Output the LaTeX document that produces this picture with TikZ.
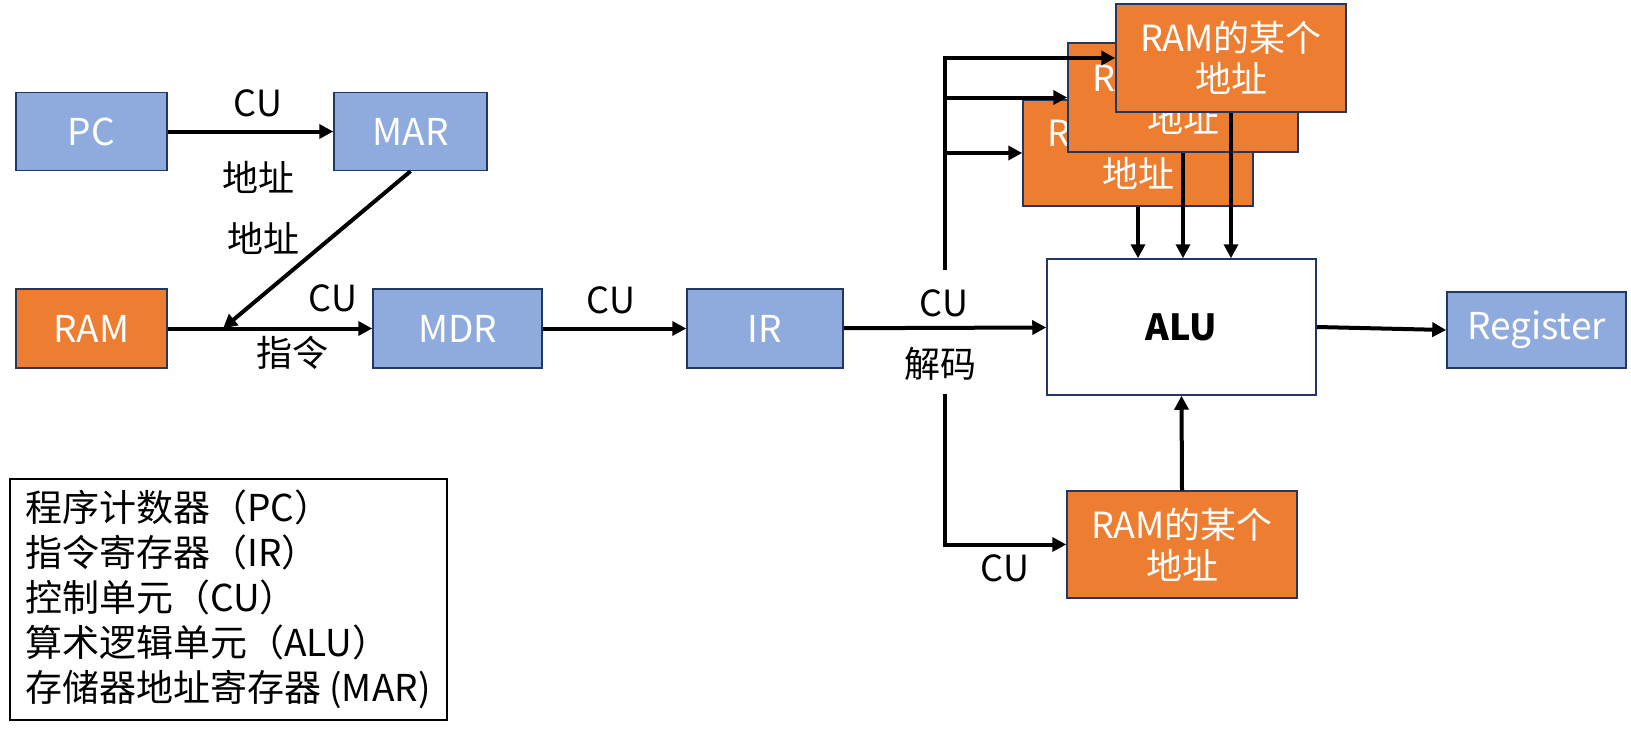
\documentclass[tikz,border=0pt]{standalone}
\usepackage{fontspec}
\setmainfont{Noto Sans CJK SC}
\usetikzlibrary{arrows.meta}
\definecolor{boxblue}{HTML}{8FAADC}
\definecolor{ramorange}{HTML}{ED7D31}
\definecolor{edgenavy}{HTML}{203864}
\begin{document}
\begin{tikzpicture}[x=1pt, y=-1pt,
    unit/.style={draw=edgenavy, line width=1.5pt, fill=boxblue, text=white,
        font=\fontsize{37}{40}\selectfont, inner sep=0pt},
    memory/.style={unit, fill=ramorange},
    cell/.style={memory, minimum width=230, align=center,
        font=\fontsize{36}{41}\selectfont},
    lbl/.style={font=\fontsize{36}{38}\selectfont},
    arr/.style={line width=4pt, -{Triangle[length=14pt, width=14pt]}}
]
    \useasboundingbox (0,0) rectangle (1631,734);

    % Registers and memory
    \node[unit, minimum width=151, minimum height=78] (pc) at (91.5,131.5) {PC};
    \node[unit, minimum width=153, minimum height=78] (mar) at (410.5,131.5) {MAR};
    \node[memory, minimum width=151, minimum height=79] (ram) at (91.5,328.5) {RAM};
    \node[unit, minimum width=169, minimum height=79] (mdr) at (457.5,328.5) {MDR};
    \node[unit, minimum width=156, minimum height=79] (ir) at (765,328.5) {IR};
    \node[draw=edgenavy, line width=1.5pt, fill=white, minimum width=269, minimum height=136,
        font=\fontsize{36}{38}\selectfont\bfseries] (alu) at (1181.5,327) {ALU};
    \node[unit, minimum width=179, minimum height=76] (reg) at (1536.5,330) {Register};

    % Stacked memory cells (back to front)
    \node[cell, minimum height=106] (rama) at (1138,153) {RAM的某个\\地址};
    \node[cell, minimum height=109] (ramb) at (1183,97.5) {RAM的某个\\地址};
    \node[cell, minimum height=108] (ramc) at (1231,58) {RAM的某个\\地址};
    \node[cell, minimum height=107] (ramd) at (1182,544.5) {RAM的某个\\地址};

    % Fetch path
    \coordinate (tap) at (223,328.5);
    \draw[arr] (pc) -- (mar);
    \draw[arr] (mar.south) -- (tap);
    \draw[arr] (ram) -- (mdr);
    \draw[arr] (mdr) -- (ir);
    \draw[arr] (ir) -- (alu);
    \draw[arr] (alu.east) -- (reg.west);

    % Decode branches
    \coordinate (tu) at (945,270);
    \coordinate (td) at (945,394);
    \draw[arr] (tu) |- (ramc.west);
    \draw[arr] (tu |- ramb.west) -- (ramb.west);
    \draw[arr] (tu |- rama.west) -- (rama.west);
    \draw[arr] (td) |- (ramd.west);
    \draw[arr] (rama.south) -- (rama.south |- alu.north);
    \draw[arr] (ramb.south) -- (ramb.south |- alu.north);
    \draw[arr] (ramc.south) -- (ramc.south |- alu.north);
    \draw[arr] (ramd.north) -- (alu.south);

    % Edge labels
    \node[lbl] (cua) at (258,103) {CU};
    \node[lbl] (addra) at (258,177) {地址};
    \node[lbl] (addrb) at (263,238) {地址};
    \node[lbl] (cub) at (333,298) {CU};
    \node[lbl] (instr) at (292,353) {指令};
    \node[lbl] (cuc) at (611,300) {CU};
    \node[lbl] (cud) at (944,303) {CU};
    \node[lbl] (decode) at (940,364) {解码};
    \node[lbl] (cue) at (1005,568) {CU};

    % Legend
    \node[draw, line width=2pt, anchor=north west, minimum width=437, minimum height=241]
        (legend) at (9,478) {};
    \node[anchor=west, align=left, inner sep=0pt, font=\fontsize{37}{45}\selectfont]
        (legtext) at ([xshift=16pt]legend.west)
        {程序计数器（PC）\\指令寄存器（IR）\\控制单元（CU）\\算术逻辑单元（ALU）\\存储器地址寄存器 (MAR)};
\end{tikzpicture}
\end{document}
